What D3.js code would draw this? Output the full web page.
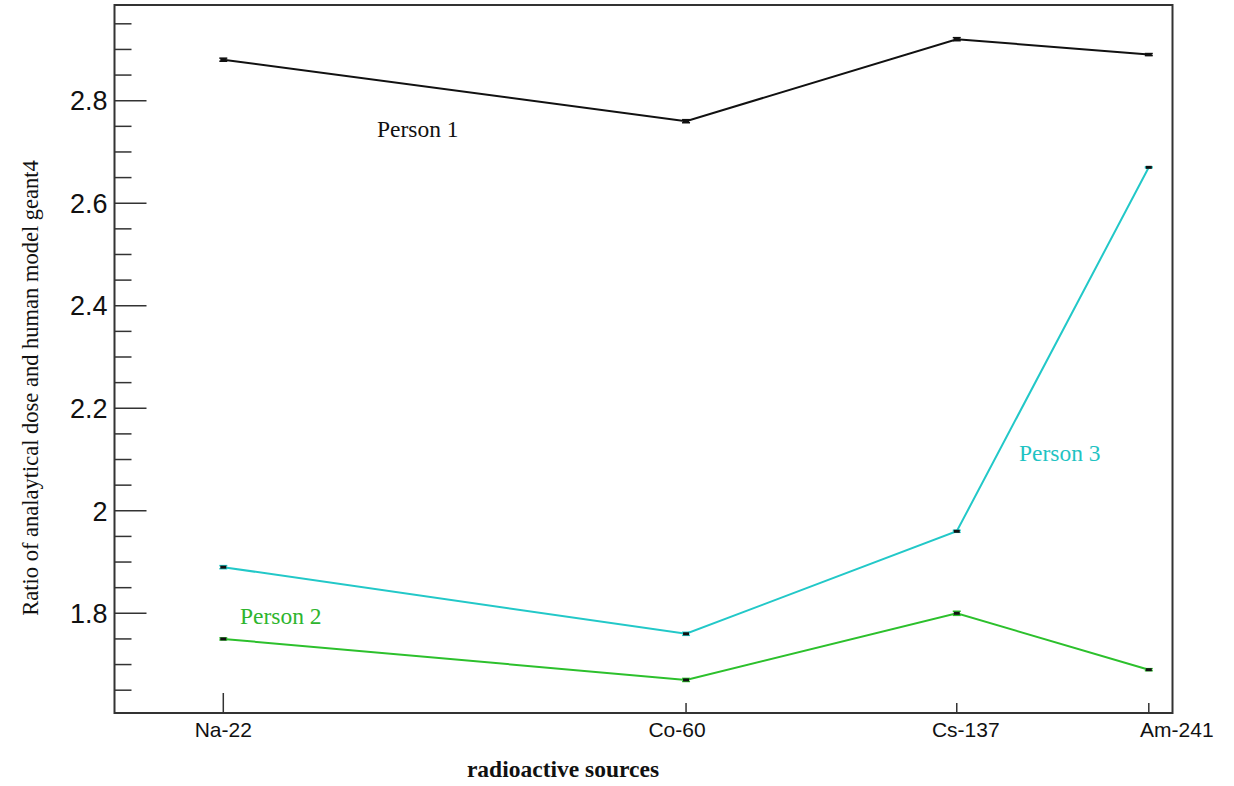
<!DOCTYPE html>
<html>
<head>
<meta charset="utf-8">
<script src="https://cdn.jsdelivr.net/npm/d3@7"></script>
<style>
  body { margin: 0; background: #fff; }
  svg { display: block; }
</style>
</head>
<body>
<svg id="chart" width="1234" height="786"></svg>
<script>
// chart data
const sources = ["Na-22", "Co-60", "Cs-137", "Am-241"];
const sourcePos = [1, 2, 2.585, 3];
const person1 = [2.88, 2.76, 2.92, 2.89];
const person2 = [1.75, 1.67, 1.80, 1.69];
const person3 = [1.89, 1.76, 1.96, 2.67];
const person1Err = [0.003, 0.003, 0.003, 0.002];
const person2Err = [0.002, 0.003, 0.004, 0.002];
const person3Err = [0.003, 0.003, 0.002, 0.001];
const yMajorTicks = [1.8, 2, 2.2, 2.4, 2.6, 2.8];
const yTickLabels = ["1.8", "2", "2.2", "2.4", "2.6", "2.8"];

const series = [
    { name: "Person 1", values: person1, err: person1Err, color: "#111111", labelColor: "#111111" },
    { name: "Person 3", values: person3, err: person3Err, color: "#22c8c8", labelColor: "#1fc3c3" },
    { name: "Person 2", values: person2, err: person2Err, color: "#2cc02c", labelColor: "#2db52d" }
];

const svg = d3.select("#chart");

const frame = { left: 114.5, right: 1172.5, top: 5, bottom: 713 };

const x = d3.scaleLinear()
    .domain([1, 3])
    .range([223.3, 1148.8]);

const y = d3.scaleLinear()
    .domain([1.8, 2.8])
    .range([613.3, 100.7]);

// minor ticks every 0.05 within the visible frame
const yMin = y.invert(frame.bottom), yMax = y.invert(frame.top);
const minorTicks = d3.range(1.65, 3.0, 0.05)
    .filter(v => v > yMin && v < yMax)
    .filter(v => !yMajorTicks.some(m => Math.abs(m - v) < 1e-6));

svg.append("g")
    .selectAll("line")
    .data(minorTicks)
    .enter()
    .append("line")
    .attr("x1", frame.left)
    .attr("x2", frame.left + 17)
    .attr("y1", d => y(d))
    .attr("y2", d => y(d))
    .attr("stroke", "#333")
    .attr("stroke-width", 1.5);

svg.append("g")
    .selectAll("line")
    .data(yMajorTicks)
    .enter()
    .append("line")
    .attr("x1", frame.left)
    .attr("x2", frame.left + 32)
    .attr("y1", d => y(d))
    .attr("y2", d => y(d))
    .attr("stroke", "#333")
    .attr("stroke-width", 1.5);

svg.append("g")
    .selectAll("text")
    .data(yMajorTicks)
    .enter()
    .append("text")
    .attr("x", frame.left - 7)
    .attr("y", d => y(d))
    .attr("dy", "0.36em")
    .attr("text-anchor", "end")
    .style("font-family", "'Liberation Sans', Arial, sans-serif")
    .style("font-size", "27px")
    .style("fill", "#111")
    .text((d, i) => yTickLabels[i]);

// x ticks
const xTickLen = [20, 10, 10, 10];
const xLabelNudge = [0, -9, 9, 28];

svg.append("g")
    .selectAll("line")
    .data(sourcePos)
    .enter()
    .append("line")
    .attr("x1", d => x(d))
    .attr("x2", d => x(d))
    .attr("y1", frame.bottom)
    .attr("y2", (d, i) => frame.bottom - xTickLen[i])
    .attr("stroke", "#333")
    .attr("stroke-width", 1.5);

svg.append("g")
    .selectAll("text")
    .data(sourcePos)
    .enter()
    .append("text")
    .attr("x", (d, i) => x(d) + xLabelNudge[i])
    .attr("y", 737)
    .attr("text-anchor", "middle")
    .style("font-family", "'Liberation Sans', Arial, sans-serif")
    .style("font-size", "21px")
    .style("fill", "#111")
    .text((d, i) => sources[i]);

// frame
svg.append("rect")
    .attr("x", frame.left)
    .attr("y", frame.top)
    .attr("width", frame.right - frame.left)
    .attr("height", frame.bottom - frame.top)
    .attr("fill", "none")
    .attr("stroke", "#333")
    .attr("stroke-width", 2);

// lines
const line = d3.line()
    .x((d, i) => x(sourcePos[i]))
    .y(d => y(d));

series.forEach(s => {
    svg.append("path")
        .datum(s.values)
        .attr("d", line)
        .attr("fill", "none")
        .attr("stroke", s.color)
        .attr("stroke-width", 2);

    const g = svg.append("g");
    s.values.forEach((v, i) => {
        const cx = x(sourcePos[i]);
        const hi = y(v + s.err[i]), lo = y(v - s.err[i]);
        g.append("line")
            .attr("x1", cx).attr("x2", cx)
            .attr("y1", hi).attr("y2", lo)
            .attr("stroke", s.color).attr("stroke-width", 1.5);
        [hi, lo].forEach(yy => {
            g.append("line")
                .attr("x1", cx - 4).attr("x2", cx + 4)
                .attr("y1", yy).attr("y2", yy)
                .attr("stroke", s.color).attr("stroke-width", 1.5);
        });
        g.append("rect")
            .attr("x", cx - 3).attr("y", y(v) - 1.5)
            .attr("width", 6).attr("height", 3)
            .attr("fill", "#111");
    });
});

// series labels
const labelPos = [
    { name: "Person 1", x: 377, y: 137 },
    { name: "Person 3", x: 1019, y: 461 },
    { name: "Person 2", x: 240, y: 624 }
];
labelPos.forEach(l => {
    const s = series.find(d => d.name === l.name);
    svg.append("text")
        .attr("x", l.x)
        .attr("y", l.y)
        .style("font-family", "'Liberation Serif', 'Times New Roman', serif")
        .style("font-size", "23.5px")
        .style("fill", s.labelColor)
        .text(l.name);
});

// axis titles
svg.append("text")
    .attr("transform", "translate(38,388) rotate(-90)")
    .attr("text-anchor", "middle")
    .style("font-family", "'Liberation Serif', 'Times New Roman', serif")
    .style("font-size", "22.5px")
    .style("fill", "#111")
    .text("Ratio of analaytical dose and human model geant4");

svg.append("text")
    .attr("x", 563)
    .attr("y", 777)
    .attr("text-anchor", "middle")
    .style("font-family", "'Liberation Serif', 'Times New Roman', serif")
    .style("font-size", "23.5px")
    .style("font-weight", "bold")
    .style("fill", "#111")
    .text("radioactive sources");
</script>
</body>
</html>
